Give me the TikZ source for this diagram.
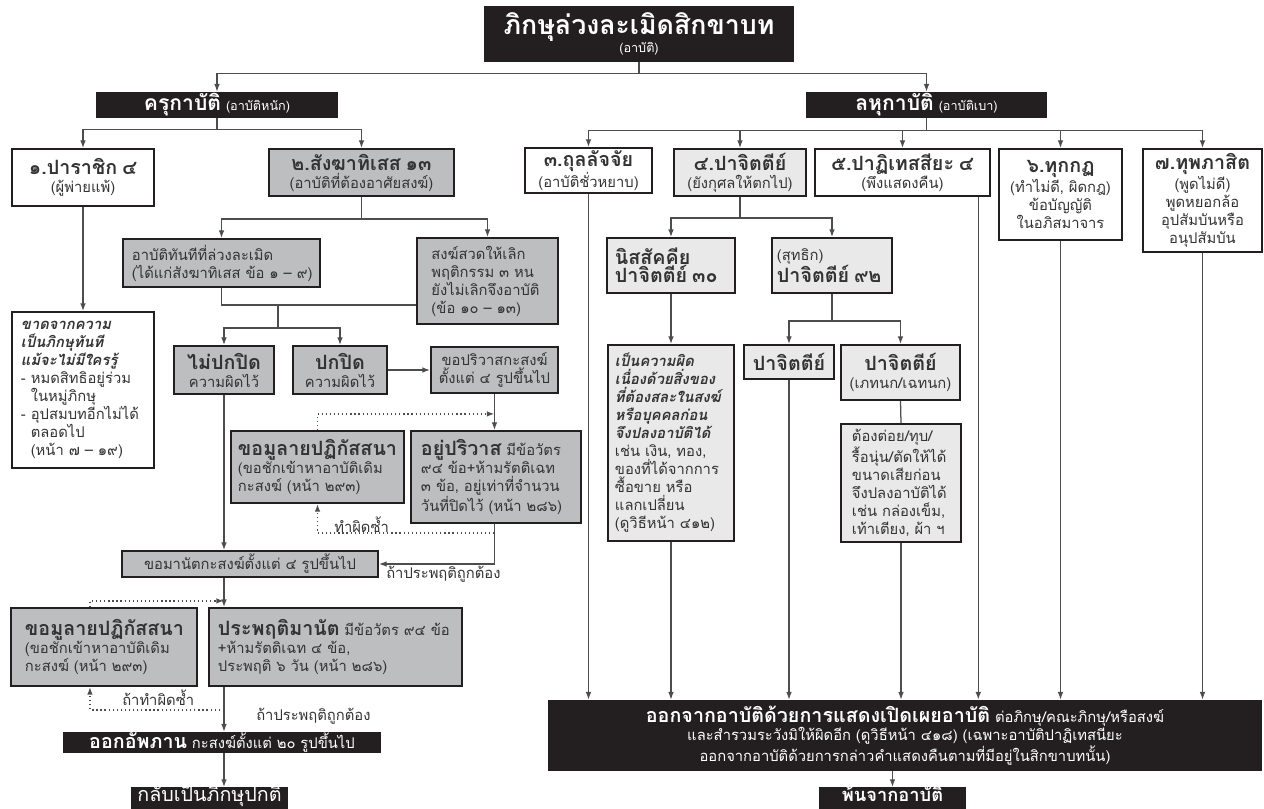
\documentclass[tikz,border=0pt]{standalone}
\usepackage{fontspec}
\setmainfont[Script=Thai]{Loma}
\usepackage{xcolor}
\usetikzlibrary{arrows.meta,positioning}

\definecolor{ink}{HTML}{231F20}
\definecolor{txt}{HTML}{333333}
\definecolor{sgray}{HTML}{BDBEC0}
\definecolor{pgray}{HTML}{E9E9EA}
\definecolor{linec}{HTML}{4D4D4F}

\newcommand\titlef{\fontsize{19}{21}\selectfont\bfseries}
\newcommand\boxf{\fontsize{15}{17}\selectfont\bfseries}
\newcommand\headf{\fontsize{14}{16}\selectfont\bfseries}
\newcommand\bigf{\fontsize{14}{16.5}\selectfont\bfseries}
\newcommand\bodyf{\fontsize{10.5}{12.8}\selectfont}
\newcommand\smallf{\fontsize{9}{11}\selectfont}

\begin{document}
\begin{tikzpicture}[x=0.025cm, y=-0.025cm,
  every node/.style={inner xsep=0.125cm, inner ysep=0pt, font=\bodyf, text=txt},
  box/.style={draw=ink, line width=1.3pt},
  wbox/.style={box, fill=white},
  gbox/.style={box, fill=sgray},
  lbox/.style={box, fill=pgray},
  bbox/.style={fill=ink, text=white},
  endbox/.style={bbox, anchor=north, text height=10pt, text depth=8.5pt},
  wire/.style={draw=linec, line width=0.9pt},
  arr/.style={wire, -{Latex[length=5.5pt,width=4pt]}},
  dotarr/.style={arr, dotted, line width=1.1pt},
  lab/.style={inner sep=0pt, font=\bodyf}]
\useasboundingbox (0,0) rectangle (1264,809);

% Nodes -- top
\node[bbox, minimum width=7.75cm, text width=7.5cm, minimum height=1.4cm, align=center] (title) at (639,34) {{\titlef ภิกษุล่วงละเมิดสิกขาบท}\\{\smallf (อาบัติ)}};
\node[bbox, minimum width=6.025cm, text width=5.775cm, minimum height=0.65cm, align=center] (kru) at (217,105) {{\boxf ครุกาบัติ}~{\smallf (อาบัติหนัก)}};
\node[bbox, minimum width=6.025cm, text width=5.775cm, minimum height=0.65cm, align=center] (lahu) at (926.5,105) {{\boxf ลหุกาบัติ}~{\smallf (อาบัติเบา)}};

% Nodes -- garukapatti
\node[wbox, minimum width=3.55cm, text width=3.3cm, minimum height=1.425cm, align=center] (p1) at (83,177.5) {{\headf ๑.ปาราชิก~๔}\\(ผู้พ่ายแพ้)};
\node[wbox, minimum width=3.55cm, text width=3.1cm, minimum height=3.9cm, align=left] (p1res) at (83,390) {{\bfseries\itshape ขาดจากความ\\เป็นภิกษุทันที\\แม้จะไม่มีใครรู้}\\-~หมดสิทธิอยู่ร่วม\\\phantom{-~}ในหมู่ภิกษุ\\-~อุปสมบทอีกไม่ได้\\\phantom{-~}ตลอดไป\\\mbox{\phantom{-~}(หน้า~๗~–~๑๙)}};
\node[gbox, minimum width=4.625cm, text width=4.375cm, minimum height=1.175cm, align=center] (p2) at (361.5,172.5) {{\headf ๒.สังฆาทิเสส~๑๓}\\(อาบัติที่ต้องอาศัยสงฆ์)};
\node[gbox, minimum width=4.925cm, text width=4.475cm, minimum height=1.2cm, align=left] (instant) at (221.5,263) {อาบัติทันทีที่ล่วงละเมิด\\\mbox{(ได้แก่สังฆาทิเสส~ข้อ~๑~–~๙)}};
\node[gbox, minimum width=3.525cm, text width=2.8cm, minimum height=2.15cm, align=left] (chant) at (487.5,281) {สงฆ์สวดให้เลิก\\พฤติกรรม~๓~หน\\ยังไม่เลิกจึงอาบัติ\\\mbox{(ข้อ~๑๐~–~๑๓)}};
\node[gbox, minimum width=2.5cm, text width=2.25cm, minimum height=1.2cm, align=center] (nohide) at (224,370) {{\bigf ไม่ปกปิด}\\ความผิดไว้};
\node[gbox, minimum width=2.35cm, text width=2.1cm, minimum height=1.2cm, align=center] (hide) at (340,370) {{\bigf ปกปิด}\\ความผิดไว้};
\node[gbox, minimum width=3.175cm, text width=2.925cm, minimum height=1.15cm, align=center] (askpari) at (494.5,370) {ขอปริวาสกะสงฆ์\\ตั้งแต่~๔~รูปขึ้นไป};
\node[gbox, minimum width=4.325cm, text width=3.975cm, minimum height=1.8cm, align=left] (mula1) at (317.5,467) {{\bigf ขอมูลายปฏิกัสสนา}\\(ขอชักเข้าหาอาบัติเดิม\\กะสงฆ์~(หน้า~๒๙๓)};
\node[gbox, minimum width=4.25cm, text width=3.75cm, minimum height=2.3cm, align=left] (pari) at (496,477) {{\bigf อยู่ปริวาส}~มีข้อวัตร\\๙๔~ข้อ+ห้ามรัตติเฉท\\๓~ข้อ,~อยู่เท่าที่จำนวน\\วันที่ปิดไว้~(หน้า~๒๘๖)};
\node[gbox, minimum width=6.4cm, text width=6.15cm, minimum height=0.65cm, align=center] (askmanat) at (250,564) {ขอมานัตกะสงฆ์ตั้งแต่~๔~รูปขึ้นไป};
\node[gbox, minimum width=4.65cm, text width=3.95cm, minimum height=1.95cm, align=left] (mula2) at (104,647) {{\bigf ขอมูลายปฏิกัสสนา}\\(ขอชักเข้าหาอาบัติเดิม\\กะสงฆ์~(หน้า~๒๙๓)};
\node[gbox, minimum width=6.325cm, text width=5.875cm, minimum height=1.95cm, align=left] (manat) at (335.5,647) {{\bigf ประพฤติมานัต}~มีข้อวัตร~๙๔~ข้อ\\+ห้ามรัตติเฉท~๔~ข้อ,\\ประพฤติ~๖~วัน~(หน้า~๒๘๖)};
\node[bbox, minimum width=7.95cm, text width=7.7cm, minimum height=0.525cm, align=center] (abbhana) at (222,742.5) {{\headf ออกอัพภาน}~กะสงฆ์ตั้งแต่~๒๐~รูปขึ้นไป};
\node[endbox, minimum width=3.925cm, text width=3.675cm, align=center] (normal) at (209.5,787) {{\fontsize{14}{16}\selectfont กลับเป็นภิกษุปกติ}};

% Nodes -- lahukapatti
\node[wbox, minimum width=3.175cm, text width=2.925cm, minimum height=1.125cm, align=center] (p3) at (588.5,170.5) {{\headf ๓.ถุลลัจจัย}\\(อาบัติชั่วหยาบ)};
\node[lbox, minimum width=3.3cm, text width=3.05cm, minimum height=1.175cm, align=center] (p4) at (740,172.5) {{\headf ๔.ปาจิตตีย์}\\(ยังกุศลให้ตกไป)};
\node[wbox, minimum width=4.375cm, text width=4.125cm, minimum height=1.175cm, align=center] (p5) at (902.5,172.5) {{\headf ๕.ปาฏิเทสสียะ~๔}\\(พึงแสดงคืน)};
\node[wbox, minimum width=3.075cm, text width=2.825cm, minimum height=2.275cm, align=center] (p6) at (1060.5,194.5) {{\headf ๖.ทุกกฏ}\\(ทำไม่ดี,~ผิดกฎ)\\ข้อบัญญัติ\\ในอภิสมาจาร};
\node[wbox, minimum width=2.975cm, text width=2.725cm, minimum height=2.575cm, align=center] (p7) at (1202.5,200.5) {{\headf ๗.ทุพภาสิต}\\(พูดไม่ดี)\\พูดหยอกล้อ\\อุปสัมบันหรือ\\อนุปสัมบัน};
\node[lbox, minimum width=3.2cm, text width=2.8cm, minimum height=1.375cm, align=left] (nissag) at (671,265.5) {{\bigf นิสสัคคีย}\\{\bigf ปาจิตตีย์~๓๐}};
\node[lbox, minimum width=3.0cm, text width=2.75cm, minimum height=1.375cm, align=left] (suddha) at (832,265.5) {(สุทธิก)\\{\bigf ปาจิตตีย์~๙๒}};
\node[lbox, minimum width=3.15cm, text width=2.8cm, minimum height=4.9cm, align=left] (nissres) at (671,443) {{\bfseries\itshape เป็นความผิด\\เนื่องด้วยสิ่งของ\\ที่ต้องสละในสงฆ์\\หรือบุคคลก่อน\\จึงปลงอาบัติได้}\\เช่น~เงิน,~ทอง,\\ของที่ได้จากการ\\ซื้อขาย~หรือ\\แลกเปลี่ยน\\(ดูวิธีหน้า~๔๑๒)};
\node[lbox, minimum width=2.2cm, text width=2.0cm, minimum height=0.85cm, align=center] (pac) at (789,362) {{\headf ปาจิตตีย์}};
\node[lbox, minimum width=2.975cm, text width=2.725cm, minimum height=1.375cm, align=center] (bheda) at (900.5,372.5) {{\headf ปาจิตตีย์}\\(เภทนก/เฉทนก)};
\node[lbox, minimum width=3.0cm, text width=2.45cm, minimum height=2.95cm, align=left] (bhedares) at (901,483) {ต้องต่อย/ทุบ/\\รื้อนุ่น/ตัดให้ได้\\ขนาดเสียก่อน\\จึงปลงอาบัติได้\\เช่น~กล่องเข็ม,\\เท้าเตียง,~ผ้า~ฯ};
\node[bbox, minimum width=17.85cm, text width=17.6cm, minimum height=1.775cm, align=center] (confess) at (905,735.5) {{\headf ออกจากอาบัติด้วยการแสดงเปิดเผยอาบัติ}~ต่อภิกษุ/คณะภิกษุ/หรือสงฆ์\\และสำรวมระวังมิให้ผิดอีก~(ดูวิธีหน้า~๔๑๘)~(เฉพาะอาบัติปาฏิเทสนียะ\\ออกจากอาบัติด้วยการกล่าวคำแสดงคืนตามที่มีอยู่ในสิกขาบทนั้น)};
\node[endbox, minimum width=3.675cm, text width=3.425cm, align=center] (freed) at (892.5,787) {{\fontsize{13}{15}\selectfont\bfseries พ้นจากอาบัติ}};

% Labels
\node[lab, anchor=west] (lrep1) at (334,525) {ทำผิดซ้ำ};
\node[lab, anchor=west] (lok1) at (386,574) {ถ้าประพฤติถูกต้อง};
\node[lab, anchor=west] (lrep2) at (122,698) {ถ้าทำผิดซ้ำ};
\node[lab, anchor=west] (lok2) at (256,716) {ถ้าประพฤติถูกต้อง};

% Arrows -- top
\draw[wire] (title.south) -- ++(0,11) coordinate (tj);
\draw[arr] (tj) -| (kru.north);
\draw[arr] (tj) -| (lahu.north);
\draw[wire] (kru.south) -- ++(0,11) coordinate (kj);
\draw[arr] (kj) -| (p1.north);
\draw[arr] (kj) -| (p2.north);
\draw[wire] (lahu.south) -- ++(0,12) coordinate (lj);
\foreach \n in {p3,p4,p5,p6,p7}
  \draw[arr] (lj) -| (\n.north);

% Arrows -- garukapatti
\draw[arr] (p1.south) -- (p1res.north);
\draw[wire] (p2.south) -- ++(0,22) coordinate (sj);
\draw[arr] (sj) -| (instant.north);
\draw[arr] (sj) -| (chant.north);
\coordinate (mj) at (278,305);
\draw[wire] (instant.south) |- (mj) -- (mj -| chant.west);
\draw[wire] (mj) -- ++(0,23) coordinate (hj);
\draw[arr] (hj) -| (nohide.north);
\draw[arr] (hj) -| (hide.north);
\draw[arr] (hide.east) -- (askpari.west);
\draw[arr] (askpari.south) -- (askpari.south |- pari.north);
\path (askpari.south) ++(0,20) coordinate (pv1);
\draw[dotarr] (mula1.north) |- (pv1);
\path (askpari.south |- pari.south) ++(0,9) coordinate (pv2);
\draw[dotarr] (pv2) -| (mula1.south);
\draw[arr] (askpari.south |- pari.south) |- (askmanat.east);
\draw[arr] (nohide.south) -- (nohide.south |- askmanat.north);
\draw[arr] (askmanat.south -| nohide.south) -- (nohide.south |- manat.north);
\path (askmanat.south -| nohide.south) ++(0,23) coordinate (mv1);
\path ([xshift=-10pt]mula2.north) coordinate (m2n);
\path ([xshift=-10pt]mula2.south) coordinate (m2s);
\draw[dotarr] (m2n) |- (mv1);
\path (manat.south -| nohide.south) ++(0,23) coordinate (mv2);
\draw[dotarr] (mv2) -| (m2s);
\draw[arr] (manat.south -| nohide.south) -- (nohide.south |- abbhana.north);
\draw[arr] (abbhana.south -| nohide.south) -- (nohide.south |- normal.north);

% Arrows -- lahukapatti
\draw[arr] (p3.south) -- (p3.south |- confess.north);
\draw[wire] (p4.south) -- ++(0,21) coordinate (pj);
\draw[arr] (pj) -| (nissag.north);
\draw[arr] (pj) -| (suddha.north);
\draw[arr] (nissag.south) -- (nissres.north);
\draw[arr] (nissres.south) -- (nissres.south |- confess.north);
\draw[wire] (suddha.south) -- ++(0,27) coordinate (qj);
\draw[arr] (qj) -| (pac.north);
\draw[arr] (qj) -| (bheda.north);
\draw[arr] (pac.south) -- (pac.south |- confess.north);
\draw[wire] (bheda.south) -- (bhedares.north);
\draw[arr] (bhedares.south) -- (bhedares.south |- confess.north);
\path ([xshift=-9pt]p5.south east) coordinate (p5o);
\draw[arr] (p5o) -- (p5o |- confess.north);
\draw[arr] (p6.south) -- (p6.south |- confess.north);
\draw[arr] (p7.south) -- (p7.south |- confess.north);
\draw[arr] (freed.north |- confess.south) -- (freed.north);
\end{tikzpicture}
\end{document}
